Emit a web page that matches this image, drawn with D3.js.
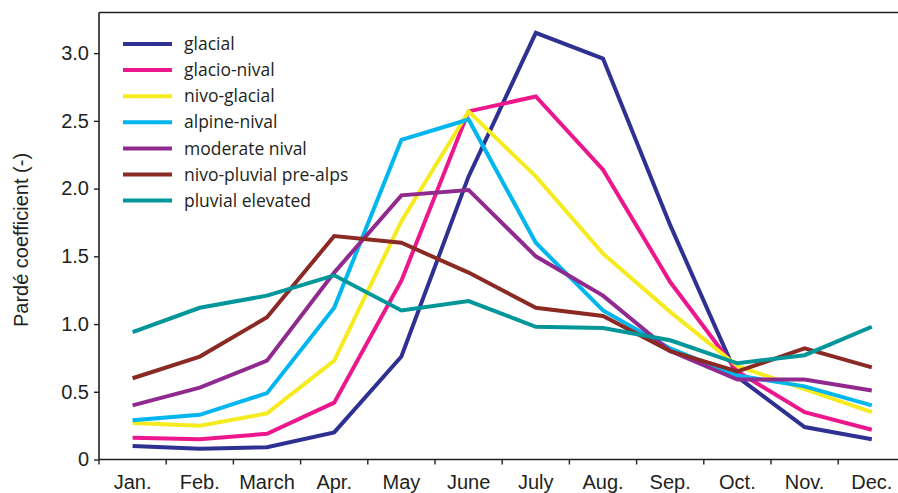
<!DOCTYPE html>
<html>
<head>
<meta charset="utf-8">
<script src="https://cdn.jsdelivr.net/npm/d3@7"></script>
<style>
  html, body { margin: 0; padding: 0; background: #fff; }
  svg { display: block; }
</style>
</head>
<body>
<svg id="chart" width="898" height="493"></svg>
<script>
// Monthly Pardé coefficients per runoff regime
const months = ["Jan.", "Feb.", "March", "Apr.", "May", "June", "July", "Aug.", "Sep.", "Oct.", "Nov.", "Dec."];
const yTicks = [0, 0.5, 1.0, 1.5, 2.0, 2.5, 3.0];

const regimeNames = ["glacial", "glacio-nival", "nivo-glacial", "alpine-nival", "moderate nival", "nivo-pluvial pre-alps", "pluvial elevated"];
const regimeColors = ["#2e3192", "#ec178c", "#f6eb1f", "#00b6ef", "#902a8f", "#8b2a24", "#00969a"];

const glacial         = [0.10, 0.08, 0.09, 0.20, 0.76, 2.09, 3.15, 2.96, 1.73, 0.61, 0.24, 0.15];
const glacioNival     = [0.16, 0.15, 0.19, 0.42, 1.32, 2.57, 2.68, 2.14, 1.31, 0.65, 0.35, 0.22];
const nivoGlacial     = [0.27, 0.25, 0.34, 0.73, 1.76, 2.57, 2.09, 1.52, 1.09, 0.69, 0.52, 0.35];
const alpineNival     = [0.29, 0.33, 0.49, 1.12, 2.36, 2.51, 1.60, 1.10, 0.82, 0.62, 0.54, 0.40];
const moderateNival   = [0.40, 0.53, 0.73, 1.38, 1.95, 1.99, 1.50, 1.21, 0.80, 0.59, 0.59, 0.51];
const nivoPluvial     = [0.60, 0.76, 1.05, 1.65, 1.60, 1.38, 1.12, 1.06, 0.80, 0.65, 0.82, 0.68];
const pluvialElevated = [0.94, 1.12, 1.21, 1.36, 1.10, 1.17, 0.98, 0.97, 0.88, 0.71, 0.77, 0.98];

const seriesValues = [glacial, glacioNival, nivoGlacial, alpineNival, moderateNival, nivoPluvial, pluvialElevated];
const series = regimeNames.map((name, i) => ({ name, color: regimeColors[i], values: seriesValues[i] }));

const svg = d3.select("#chart");
const axisColor = "#231f20";

const plotLeft = 99, plotTop = 12.5, plotBottom = 459.5;
const bandW = 67.2;

const x = d3.scaleBand().domain(months).range([plotLeft, plotLeft + bandW * months.length]).paddingInner(0).paddingOuter(0);
const y = d3.scaleLinear().domain([0, 3.3]).range([plotBottom, plotTop]);

// frame top line
svg.append("line")
  .attr("x1", plotLeft).attr("x2", 898)
  .attr("y1", plotTop).attr("y2", plotTop)
  .attr("stroke", axisColor).attr("stroke-width", 1.6);

// y axis
const yAxis = svg.append("g")
  .attr("transform", `translate(${plotLeft},0)`)
  .call(d3.axisLeft(y).tickValues(yTicks).tickSize(5).tickPadding(5)
        .tickFormat(d => d === 0 ? "0" : d3.format(".1f")(d)));
yAxis.select(".domain").attr("stroke", axisColor).attr("stroke-width", 1.6)
  .attr("d", `M0,${plotTop}V${plotBottom}`);
yAxis.selectAll(".tick line").attr("stroke", axisColor).attr("stroke-width", 1.4);
yAxis.selectAll(".tick text")
  .attr("fill", axisColor)
  .style("font-family", "'Liberation Sans', Arial, Helvetica, sans-serif")
  .style("font-size", "20px");

// x axis: ticks at band boundaries, labels at band centres
const xAxisG = svg.append("g").attr("transform", `translate(0,${plotBottom})`);
xAxisG.append("line")
  .attr("x1", plotLeft).attr("x2", 898)
  .attr("stroke", axisColor).attr("stroke-width", 1.6);
xAxisG.selectAll("line.tick")
  .data(months.concat(["end"]))
  .join("line")
  .attr("class", "tick")
  .attr("x1", (d, i) => plotLeft + bandW * i)
  .attr("x2", (d, i) => plotLeft + bandW * i)
  .attr("y1", 0).attr("y2", 5)
  .attr("stroke", axisColor).attr("stroke-width", 1.4);
xAxisG.selectAll("text")
  .data(months)
  .join("text")
  .attr("x", d => x(d) + x.bandwidth() / 2)
  .attr("y", 29.5)
  .attr("text-anchor", "middle")
  .attr("fill", axisColor)
  .style("font-family", "'Liberation Sans', Arial, Helvetica, sans-serif")
  .style("font-size", "20px")
  .text(d => d);

// y axis title
svg.append("text")
  .attr("transform", `translate(28,240) rotate(-90)`)
  .attr("text-anchor", "middle")
  .attr("fill", axisColor)
  .style("font-family", "'Liberation Sans', Arial, Helvetica, sans-serif")
  .style("font-size", "20px")
  .text("Pardé coefficient (-)");

// regime lines
const line = d3.line()
  .x((d, i) => x(months[i]) + x.bandwidth() / 2)
  .y(d => y(d));

svg.append("g").selectAll("path")
  .data(series)
  .join("path")
  .attr("d", d => line(d.values))
  .attr("fill", "none")
  .attr("stroke", d => d.color)
  .attr("stroke-width", 4)
  .attr("stroke-linejoin", "miter")
  .attr("stroke-linecap", "butt");

// legend
const legend = svg.append("g").attr("transform", "translate(123,44)");
const rows = legend.selectAll("g")
  .data(series)
  .join("g")
  .attr("transform", (d, i) => `translate(0,${i * 26.1})`);
rows.append("line")
  .attr("x1", 0).attr("x2", 49)
  .attr("stroke", d => d.color)
  .attr("stroke-width", 4);
rows.append("text")
  .attr("x", 61)
  .attr("dy", "0.35em")
  .attr("fill", axisColor)
  .style("font-family", "'Open Sans', 'Noto Sans', sans-serif")
  .style("font-size", "17.5px")
  .text(d => d.name);
</script>
</body>
</html>
